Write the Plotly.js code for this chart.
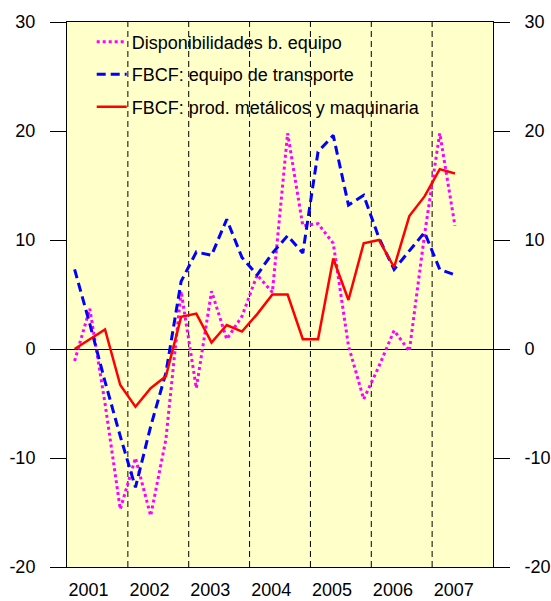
<!DOCTYPE html>
<html>
<head>
<meta charset="utf-8">
<script src="https://cdn.plot.ly/plotly-3.0.1.min.js"></script>
<style>html,body{margin:0;padding:0;background:#fff;}#chart{width:551px;height:601px;}</style>
</head>
<body>
<div id="chart"></div>
<script>
// Quarterly periods 2001-T1 ... 2007-T2
const periods = ['2001-T1','2001-T2','2001-T3','2001-T4','2002-T1','2002-T2','2002-T3','2002-T4',
  '2003-T1','2003-T2','2003-T3','2003-T4','2004-T1','2004-T2','2004-T3','2004-T4',
  '2005-T1','2005-T2','2005-T3','2005-T4','2006-T1','2006-T2','2006-T3','2006-T4',
  '2007-T1','2007-T2'];
const years = [2001, 2002, 2003, 2004, 2005, 2006, 2007];
const yearLabels = ['2001','2002','2003','2004','2005','2006','2007'];
const yTicks = [-20, -10, 0, 10, 20, 30];
const yTickText = ['-20', '-10', '0', '10', '20', '30'];

const disponibilidades = [-1.1, 3.7, -5.0, -14.7, -10.0, -15.3, -8.3, 5.3,
  -3.6, 5.3, 0.9, 3.0, 6.8, 5.2, 19.8, 11.3,
  11.5, 9.7, 0.3, -4.6, -1.6, 1.7, -0.2, 10.5,
  19.8, 11.3];
const transporte = [7.3, 2.3, -3.0, -8.0, -12.7, -7.1, -2.2, 6.2,
  8.9, 8.6, 11.9, 8.4, 6.8, 8.8, 10.4, 8.8,
  18.1, 19.6, 13.2, 14.1, 10.2, 7.3, 9.0, 10.7,
  7.3, 6.8];
const maquinaria = [0.0, 0.9, 1.8, -3.3, -5.3, -3.6, -2.5, 2.95,
  3.25, 0.6, 2.2, 1.6, 3.2, 5.0, 5.0, 0.9,
  0.9, 8.3, 4.5, 9.7, 10.0, 7.5, 12.2, 14.0,
  16.5, 16.1];

// quarter -> position on a continuous year axis (middle of the quarter)
const xq = periods.map(p => {
  const [y, q] = p.split('-T');
  return Number(y) + (Number(q) - 0.5) / 4;
});

const font = 'Liberation Sans, Arial, sans-serif';

const traces = [
  {x: xq, y: disponibilidades, type: 'scatter', mode: 'lines', name: 'Disponibilidades b. equipo',
   legendgroup: 'a', line: {color: '#FF00FF', width: 3, dash: 'dot'}, hoverinfo: 'skip'},
  {x: xq, y: transporte, type: 'scatter', mode: 'lines', name: 'FBCF: equipo de transporte',
   legendgroup: 'b', line: {color: '#0000FF', width: 3, dash: '9px,5px'}, hoverinfo: 'skip'},
  {x: xq, y: maquinaria, type: 'scatter', mode: 'lines', name: 'FBCF: prod. metálicos y maquinaria',
   legendgroup: 'c', yaxis: 'y2', line: {color: '#FF0000', width: 2.5}, hoverinfo: 'skip'}
];

const shapes = years.slice(1).map(yr => ({
  type: 'line', xref: 'x', yref: 'paper', x0: yr, x1: yr, y0: 0, y1: 1,
  line: {color: '#000', width: 1, dash: '6px,4px'}, layer: 'below'
}));

const yBase = {
  range: [-20, 30], tickvals: yTicks, ticktext: yTickText,
  ticks: 'outside', ticklen: 16, tickcolor: '#000', tickwidth: 1,
  showgrid: false, showline: true, linecolor: '#000', linewidth: 1,
  tickfont: {family: font, size: 18, color: '#000'}, ticklabelstandoff: 11,
  fixedrange: true
};

const layout = {
  width: 551, height: 601,
  margin: {l: 67, r: 58, t: 22, b: 34},
  paper_bgcolor: '#FFFFFF', plot_bgcolor: '#FFFFCA',
  font: {family: font, size: 18, color: '#000'},
  showlegend: true,
  legend: {x: 0.058, y: 0.997, xanchor: 'left', yanchor: 'top', bgcolor: 'rgba(0,0,0,0)',
    traceorder: 'grouped', tracegroupgap: 6, font: {family: font, size: 18, color: '#000'}},
  xaxis: {range: [2001, 2008], tickvals: years.map(y => y + 0.355), ticktext: yearLabels,
    ticks: '', showgrid: false, zeroline: false, showline: true, mirror: true, linecolor: '#000', linewidth: 1,
    tickfont: {family: font, size: 18, color: '#000'}, ticklabelstandoff: 6, fixedrange: true},
  yaxis: Object.assign({}, yBase, {zeroline: true, zerolinecolor: '#000', zerolinewidth: 1, side: 'left', mirror: false}),
  yaxis2: Object.assign({}, yBase, {overlaying: 'y', side: 'right', zeroline: false}),
  shapes: shapes
};

Plotly.newPlot('chart', traces, layout, {displayModeBar: false, staticPlot: true});
</script>
</body>
</html>
